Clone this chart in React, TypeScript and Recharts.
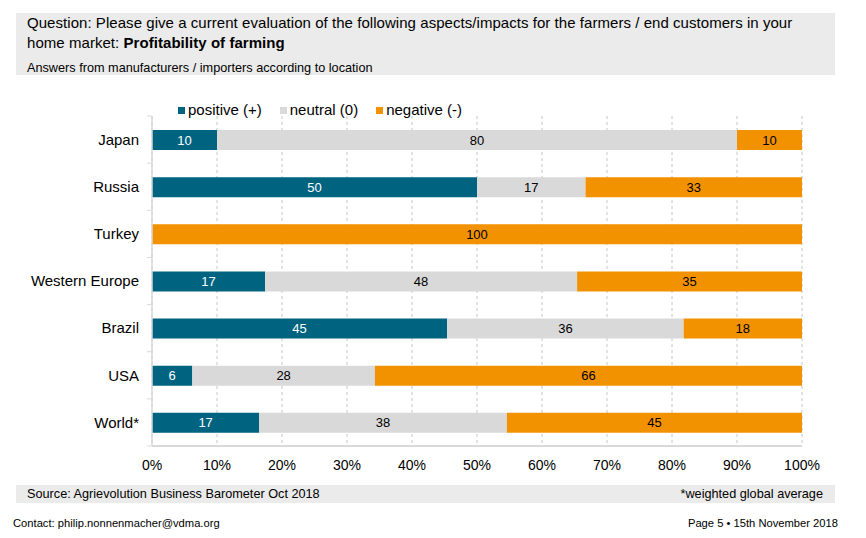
import React from "react";
import { Bar, BarChart, CartesianGrid, LabelList, XAxis, YAxis } from "recharts";

const COUNTRIES = ["Japan", "Russia", "Turkey", "Western Europe", "Brazil", "USA", "World*"];
// shares in percent; labels show them rounded
const POSITIVE = [10, 50, 0, 17.4, 45.4, 6.2, 16.5];
const NEUTRAL = [80, 16.7, 0, 48, 36.4, 28.1, 38.1];
const NEGATIVE = [10, 33.3, 100, 34.6, 18.2, 65.7, 45.4];
const X_TICKS = [0, 0.1, 0.2, 0.3, 0.4, 0.5, 0.6, 0.7, 0.8, 0.9, 1];

const SERIES = [
  { key: "positive", name: "positive (+)", color: "#00637f", text: "#fff" },
  { key: "neutral", name: "neutral (0)", color: "#d9d9d9", text: "#000" },
  { key: "negative", name: "negative (-)", color: "#f39200", text: "#000" },
];

const data = COUNTRIES.map((name, i) => ({
  name,
  positive: POSITIVE[i],
  neutral: NEUTRAL[i],
  negative: NEGATIVE[i],
}));

const W = 866;
const H = 538;
const MARGIN = { top: 116, right: 64, bottom: 62, left: 2 };
const X_AXIS_H = 30;
const HALF_BAND = (H - MARGIN.top - MARGIN.bottom - X_AXIS_H) / COUNTRIES.length / 2;
const FONT = "'Liberation Sans', Arial, sans-serif";

function CountryTick(props: any) {
  const { x, y, payload, index } = props;
  return (
    <g>
      <line x1={x + 8} x2={x + 3} y1={y + HALF_BAND} y2={y + HALF_BAND} stroke="#d9d9d9" />
      {index === 0 && (
        <line x1={x + 8} x2={x + 3} y1={y - HALF_BAND} y2={y - HALF_BAND} stroke="#d9d9d9" />
      )}
      <text x={x - 5} y={y} dy="0.35em" textAnchor="end" fontSize={15} fill="#000">
        {payload.value}
      </text>
    </g>
  );
}

function LegendRow() {
  return (
    <div
      style={{
        position: "absolute",
        left: 178,
        top: 101,
        display: "flex",
        gap: 18,
        fontSize: 15,
        lineHeight: "18px",
        color: "#000",
      }}
    >
      {SERIES.map((s) => (
        <span key={s.key} style={{ display: "flex", alignItems: "center" }}>
          <span style={{ width: 7, height: 7, background: s.color, marginRight: 3 }} />
          {s.name}
        </span>
      ))}
    </div>
  );
}

export default function App() {
  return (
    <div
      style={{
        position: "absolute",
        left: 0,
        top: 0,
        width: W,
        height: H,
        background: "#fff",
        fontFamily: FONT,
        color: "#000",
      }}
    >
      <div
        style={{
          position: "absolute",
          left: 16,
          top: 13,
          width: 819,
          height: 62,
          background: "#ebebeb",
          boxSizing: "border-box",
          padding: "0 11px",
        }}
      >
        <div style={{ fontSize: 15, lineHeight: "20px", letterSpacing: 0.05 }}>
          Question: Please give a current evaluation of the following aspects/impacts for the farmers / end customers in your
          <br />
          home market: <b>Profitability of farming</b>
        </div>
        <div style={{ fontSize: 12.7, lineHeight: "14px", marginTop: 8 }}>
          Answers from manufacturers / importers according to location
        </div>
      </div>

      <div style={{ position: "absolute", left: 0, top: 0 }}>
        <BarChart
          width={W}
          height={H}
          data={data}
          layout="vertical"
          stackOffset="expand"
          margin={MARGIN}
        >
          <CartesianGrid horizontal={false} stroke="#c6c6c6" strokeDasharray="3 3" />
          <XAxis
            type="number"
            domain={[0, 1]}
            ticks={X_TICKS}
            tickFormatter={(v: number) => `${Math.round(v * 100)}%`}
            axisLine={{ stroke: "#d9d9d9", strokeWidth: 2 }}
            tickLine={false}
            tickMargin={8}
            height={X_AXIS_H}
            tick={{ fontSize: 14, fill: "#000" }}
            interval={0}
          />
          <YAxis
            type="category"
            dataKey="name"
            width={150}
            axisLine={{ stroke: "#d9d9d9", strokeWidth: 1.5 }}
            tickLine={false}
            tick={<CountryTick />}
            interval={0}
          />
          {SERIES.map((s) => (
            <Bar
              key={s.key}
              dataKey={s.key}
              name={s.name}
              stackId="a"
              fill={s.color}
              barSize={20}
              isAnimationActive={false}
            >
              <LabelList
                dataKey={s.key}
                position="center"
                fill={s.text}
                fontSize={13}
                formatter={(v: any) => (v ? Math.round(Number(v)) : "")}
              />
            </Bar>
          ))}
        </BarChart>
      </div>

      <LegendRow />

      <div
        style={{
          position: "absolute",
          left: 16,
          top: 485,
          width: 819,
          height: 18,
          background: "#ebebeb",
          boxSizing: "border-box",
          padding: "0 12px 0 11px",
          display: "flex",
          justifyContent: "space-between",
          fontSize: 12.7,
          lineHeight: "18px",
        }}
      >
        <span>Source: Agrievolution Business Barometer Oct 2018</span>
        <span>*weighted global average</span>
      </div>

      <div
        style={{
          position: "absolute",
          left: 13,
          right: 28,
          top: 516,
          display: "flex",
          justifyContent: "space-between",
          fontSize: 11.2,
          lineHeight: "14px",
        }}
      >
        <span>Contact: philip.nonnenmacher@vdma.org</span>
        <span>Page 5 • 15th November 2018</span>
      </div>
    </div>
  );
}
